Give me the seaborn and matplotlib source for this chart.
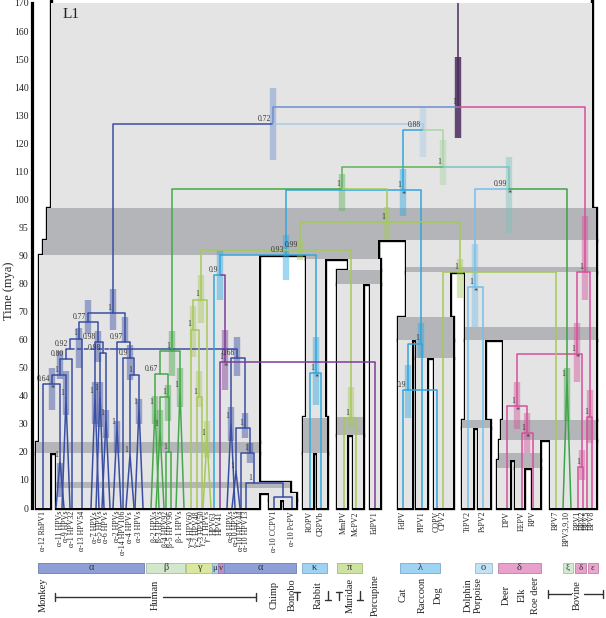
import numpy as np
import pandas as pd
import matplotlib
matplotlib.use('Agg')
import matplotlib.pyplot as plt
import matplotlib.colors as mcolors
from matplotlib.patches import Rectangle
import seaborn as sns

sns.set_theme(style='white')
plt.rcParams['font.family'] = ['Liberation Serif', 'DejaVu Serif']

# ---------------- virus tree: internal nodes ----------------
node_name = ['R', 'A', 'P', 'Na0', 'n088', 'a1', 'a2', 'a11', 'n98a', 'n98b',
             'n92', 'n80', 'n1a', 'n64', 'n9', 'n1d', 'aR', 'r1', 'r2', 'r3',
             'r4', 'n103', 'n111', 'n93', 'lam1', 'lam2', 'mn', 'nu', 'kap', 'n1036',
             'n099', 'beta1', 'beta2', 'beta3', 'beta45', 'n959', 'n099b', 'n84', 'gam1', 'gam2',
             'gam3', 'pi', 'omi', 'd2', 'dd', 'dd2', 'db', 'eps']
node_parent = [None, 'R', 'R', 'A', 'A', 'Na0', 'Na0', 'a1', 'a1', 'n98a',
               'a11', 'n92', 'n80', 'n1a', 'a2', 'n9', 'n92', 'aR', 'r1', 'r2',
               'r3', 'n088', 'n088', 'n103', 'n103', 'lam1', 'n93', 'mn', 'n93', 'n111',
               'n111', 'n1036', 'beta1', 'beta2', 'beta3', 'n1036', 'n959', 'n959', 'n099b', 'gam1',
               'gam2', 'n099b', 'n099', 'P', 'd2', 'dd', 'd2', 'P']
node_age = [132.9, 126.8, 84, 69.6, 124.6, 66.4, 59.3, 60.4, 59.3, 55.3,
            56.8, 53.2, 47.5, 44.3, 53.6, 47.5, 53.6, 28.5, 19.6, 9,
            4, 103.2, 111.4, 90, 58.6, 42, 83, 52, 48, 103.6,
            103.6, 56, 47.9, 39.6, 20, 95.9, 90.9, 84, 74.3, 63.6,
            39.6, 32, 78.6, 55, 36.4, 26.8, 14.6, 32.5]
node_support = ['1', '0.72', '1', '1', '0.88', '0.77', '0.97', '1', '0.98', '0.98',
                '0.92', '0.80', '1', '0.64', '0.9', '1', '0.68', '1', '1', '1',
                '', '1', '1', '0.93', '1', '0.9', '0.9', '1', '1', '1',
                '0.99', '1', '0.67', '1', '1', '1', '0.99', '1', '1', '1',
                '1', '1', '1', '1', '1', '1', '1', '1']
nan = np.nan
node_ci_lo = [122, 113.9, 74, 63.5, 115, 62, 59, 50, 52, nan,
              nan, nan, 46, 35, 45.7, nan, 47, 25, 16, nan,
              nan, 97, 105, 81.4, 53.6, 32, 74, 42, 36.8, 98,
              94, 47, nan, 31, nan, 92.8, 88.4, 75, 66, 54,
              36, 28, 64.6, 45, 28, 19.6, 10, 23]
node_ci_hi = [150.7, 139.6, 97, 78, 132.9, 74, 68, 64, 63, nan,
              nan, nan, 56, 50, 58, nan, 61, 34, 23, nan,
              nan, 111, 121, 93.7, 66, 51, 91, 63.5, 61, 109,
              115, 63, nan, 44, nan, 98.6, 92.8, 88.6, 83, 72,
              49, 43, 92, 66, 45, 34, 20.7, 42]
node_group = ['root', 'blue', 'delta', 'alpha', 'pale', 'alpha', 'alpha', 'alpha', 'alpha', 'alpha',
              'alpha', 'alpha', 'alpha', 'alpha', 'alpha', 'alpha', 'alpha', 'alpha', 'alpha', 'alpha',
              'alpha', 'cyan', 'lgreen', 'cyan', 'cyan', 'cyan', 'cyan', 'nu', 'cyan', 'green',
              'teal', 'beta', 'beta', 'beta', 'beta', 'ygreen', 'ygreen', 'ygreen', 'ygreen', 'ygreen',
              'ygreen', 'ygreen', 'omicron', 'delta', 'delta', 'delta', 'delta', 'delta']
starred = ['n64', 'n103', 'nu', 'kap', 'n099', 'omi', 'd2', 'dd', 'dd2']
# horizontal layout of the internal nodes (pixel-like units)
node_x = [458, 273, 585, 113, 423, 88, 125, 79, 98, 103,
          70, 66, 60, 52, 130, 134, 237, 245, 250, 254,
          283, 403, 443, 286, 421, 408, 220, 225, 316, 342,
          509, 172, 160, 168, 169, 387, 300, 460, 201, 193,
          199, 351, 475, 577, 517, 527, 582, 590]

# ---------------- virus tree: tips ----------------
tip_name = ['α-12 RhPV1', 'α-11 HPVs', 'α-9 HPVs', 'α-1 HPV32', 'α-13 HPV54', 'α-7 HPVs',
            'α-5 HPVs', 'α-6 HPVs', 'α-2 HPVs', 'α-14 HPV106', 'α-4 HPVs', 'α-3 HPVs',
            'β-2 HPVs', 'β-3 HPVs', 'β-4 HPV92', 'β-5 HPV96', 'β-1 HPVs',
            'γ-4 HPV60', 'γ-2 HPV48', 'γ-3 HPV50', 'γ-1 HPVs', 'HPV63', 'HPV41',
            'α-8 HPVs', 'α-10 HPVs', 'α-10 HPV44', 'α-10 HPV13', 'α-10 CCPV1', 'α-10 PcPV',
            'ROPV', 'CRPVb', 'MmPV', 'McPV2', 'EdPV1', 'FdPV', 'PlPV1', 'COPV', 'CPV2',
            'TtPV2', 'PsPV2', 'DPV', 'EEPV', 'RPV', 'BPV7', 'BPV3,9,10',
            'BPV1', 'BPV2', 'BPV5', 'BPV8']
tip_parent = ['n64', 'n64', 'n1a', 'n80', 'a11', 'n98a', 'n98b', 'n98b', 'a2', 'n9', 'n1d', 'n1d',
              'beta2', 'beta3', 'beta45', 'beta45', 'beta1', 'gam2', 'gam3', 'gam3', 'gam1',
              'mn', 'nu', 'aR', 'r1', 'r2', 'r3', 'r4', 'r4', 'kap', 'kap', 'pi', 'pi', 'nu',
              'lam2', 'lam1', 'lam2', 'n84', 'omi', 'omi', 'dd', 'dd2', 'dd2', 'n84', 'n099',
              'db', 'db', 'eps', 'eps']
tip_group = (['alpha'] * 12 + ['beta'] * 5 + ['ygreen'] * 4 + ['cyan', 'nu'] + ['alpha'] * 6 +
             ['cyan', 'cyan', 'ygreen', 'ygreen', 'nu', 'cyan', 'cyan', 'cyan', 'ygreen',
              'omicron', 'omicron', 'delta', 'delta', 'delta', 'ygreen', 'xi',
              'delta', 'delta', 'delta', 'delta'])
# crown age of collapsed clades (0 = single sequence)
tip_crown = [0, 17, 39, 0, 0, 40, 41, 32, 29, 0, 19, 36,
             36, 28, 0, 0, 42, 0, 0, 0, 25, 0, 0,
             31, 13, 0, 0, 0, 0, 0, 0, 0, 0, 0, 0, 0, 0, 0,
             0, 0, 0, 0, 0, 0, 46, 0, 0, 0, 0]
tip_ci_lo = [nan, 4, 33, nan, nan, 30, 29, 25, 19.6, nan, nan, 30,
             30, 22, nan, nan, 36, nan, nan, nan, 18, nan, nan,
             24, nan, nan, nan, nan, nan, nan, nan, nan, nan, nan, nan, nan, nan, nan,
             nan, nan, nan, nan, nan, nan, 31, nan, nan, nan, nan]
tip_ci_hi = [nan, 16, 49, nan, nan, 45, 45, 35, 31, nan, nan, 39,
             40, 35, nan, nan, 50, nan, nan, nan, 31, nan, nan,
             36, nan, nan, nan, nan, nan, nan, nan, nan, nan, nan, nan, nan, nan, nan,
             nan, nan, nan, nan, nan, nan, 50, nan, nan, nan, nan]
tip_x = [43, 60, 66, 72, 82, 95, 100, 106, 117, 123, 130, 139,
         155, 160, 166, 171, 180, 191, 197, 202, 207, 214, 220,
         231, 236, 241, 246, 274, 292, 310, 321, 344, 356, 375, 403, 422, 437, 443,
         468, 483, 507, 522, 533, 556, 567, 578, 583, 587, 592]

# ---------------- host tree (L1) ----------------
host_x0 = [51, 47, 43, 406, 39, 36, 36, 56, 259, 269, 269, 284,
           306, 306, 303, 303, 317, 348, 337, 337, 337, 353, 370,
           406, 398, 398, 416, 416, 434,
           465, 465, 462, 462, 478, 503, 501, 499, 497, 515, 515, 532, 550]
host_x1 = [592, 596, 378, 596, 259, 50, 259, 259, 290, 296, 280, 296,
           378, 325, 327, 313, 327, 380, 380, 363, 347, 363, 380,
           450, 453, 412, 453, 427, 453,
           596, 485, 490, 473, 490, 596, 596, 540, 510, 540, 524, 540, 596]
host_t0 = [98.4, 92.8, 90, 84, 23.5, 0, 19.5, 0, 5.4, 3, 0, 0,
           88.6, 32.5, 19.6, 0, 0, 85, 80, 26, 0, 0, 0,
           68, 60, 0, 53.5, 0, 0,
           60, 31.4, 28.6, 0, 0, 31.4, 24.3, 17, 0, 14.3, 0, 0, 0]
host_t1 = [172, 98.4, 92.8, 92.8, 90, 19.5, 23.5, 19.5, 9.3, 5.4, 3, 3,
           92.8, 88.6, 32.5, 19.6, 19.6, 88.6, 85, 80, 26, 26, 80,
           84, 68, 60, 60, 53.5, 53.5,
           84, 60, 31.4, 28.6, 28.6, 60, 31.4, 24.3, 17, 17, 14.3, 14.3, 24.3]

# host divergence intervals (dark bands)
band_x0 = [43, 43, 300, 36, 56, 303, 337, 337, 398, 398, 416, 465, 462, 499, 497]
band_x1 = [597, 300, 380, 259, 290, 327, 363, 380, 597, 453, 453, 597, 490, 597, 540]
band_t0 = [92.8, 90, 88.6, 19.5, 7.1, 19.6, 26, 80, 84, 60, 53.5, 60, 28.6, 24.3, 14.3]
band_t1 = [98.4, 92.8, 92.8, 23.5, 9.3, 32, 32.5, 85, 86, 68, 60, 64.6, 31.4, 31.4, 19.6]

# genera and hosts under the tree
genus_label = ['α', 'β', 'γ', 'μ', 'ν', 'α', 'κ', 'π', 'λ', 'ο', 'δ', 'ξ', 'δ', 'ε']
genus_x0 = [38, 146, 186, 212, 218, 224, 302, 337, 400, 475, 498, 563, 575, 588]
genus_x1 = [144, 185, 212, 218, 224, 296, 327, 362, 440, 492, 541, 573, 586, 598]
genus_fill = ['#8f9fd8', '#d3e7cd', '#d9e89c', '#a3d4f1', '#bb8fc6', '#8f9fd8', '#9ed3f3',
              '#cde3a0', '#9ed3f3', '#c2e2f6', '#e8a0cc', '#d2ead0', '#e8a0cc', '#eaa6cf']
host_label = ['Monkey', 'Human', 'Chimp', 'Bonobo', 'Rabbit', 'Muridae', 'Porcupine',
              'Cat', 'Raccoon', 'Dog', 'Dolphin', 'Porpoise', 'Deer', 'Elk', 'Roe deer', 'Bovine']
host_label_x = [43, 155, 274, 292, 318, 350, 375, 403, 422, 438, 468, 478, 506, 522, 535, 577]

palette = {'root': '#4b2c5e', 'blue': '#6d8fd0', 'alpha': '#3a4ea3', 'pale': '#a8cbe6',
           'cyan': '#2fa6df', 'lgreen': '#a9d6a3', 'green': '#5eb35b', 'teal': '#7cc4be',
           'beta': '#46a84a', 'ygreen': '#a6c95a', 'nu': '#7d3c98', 'omicron': '#75bfe8',
           'delta': '#d6509b', 'xi': '#3da447'}

nodes = pd.DataFrame({'name': node_name, 'parent': node_parent, 'age': node_age,
                      'support': node_support, 'lo': node_ci_lo, 'hi': node_ci_hi,
                      'group': node_group, 'x': node_x}).set_index('name')
tips = pd.DataFrame({'name': tip_name, 'parent': tip_parent, 'group': tip_group,
                     'crown': tip_crown, 'lo': tip_ci_lo, 'hi': tip_ci_hi, 'x': tip_x})
hosts = pd.DataFrame({'x0': host_x0, 'x1': host_x1, 't0': host_t0, 't1': host_t1})
bands = pd.DataFrame({'x0': band_x0, 'x1': band_x1, 't0': band_t0, 't1': band_t1})


# time axis is stretched between 90 and 100 mya
def fwd(t):
    t = np.asarray(t, dtype=float)
    return np.where(t <= 90, t, np.where(t <= 100, 90 + 2 * (t - 90), t + 10))


def inv(u):
    u = np.asarray(u, dtype=float)
    return np.where(u <= 90, u, np.where(u <= 110, 90 + (u - 90) / 2, u - 10))


fig = plt.figure(figsize=(6.06, 6.18), dpi=100)
ax = fig.add_axes([32 / 606, 110 / 618, 574 / 606, 505 / 618])
ax.set_yscale('function', functions=(fwd, inv))
ax.set_xlim(32, 606)
ax.set_ylim(0, 170)

# host tree: outline first, then fill on top hides the inner edges
for _, h in hosts.iterrows():
    ax.add_patch(Rectangle((h.x0, h.t0), h.x1 - h.x0, h.t1 - h.t0, fill=False,
                           ec='black', lw=2.4, clip_on=False, zorder=1))
for _, h in hosts.iterrows():
    ax.add_patch(Rectangle((h.x0, h.t0), h.x1 - h.x0, h.t1 - h.t0, fc='#e4e4e4',
                           ec='none', lw=0, zorder=2))
for _, b in bands.iterrows():
    for _, h in hosts.iterrows():
        x0, x1 = max(b.x0, h.x0), min(b.x1, h.x1)
        t0, t1 = max(b.t0, h.t0), min(b.t1, h.t1)
        if x1 > x0 and t1 > t0:
            ax.add_patch(Rectangle((x0, t0), x1 - x0, t1 - t0, fc='#b4b5b8',
                                   ec='none', lw=0, zorder=3))

lw = 1.1
# root stem
ax.plot([nodes.loc['R', 'x']] * 2, [nodes.loc['R', 'age'], 170], color=palette['root'], lw=lw, zorder=5)


def edge(x, age, parent, color, name=None):
    p = nodes.loc[parent]
    ax.plot([x, x], [age, p.age], color=color, lw=lw, zorder=5, solid_capstyle='butt')
    if name == 'aR':
        ax.plot([p.x, 110], [p.age, p.age], color=color, lw=lw, ls=(0, (3, 1.5)), zorder=5)
        ax.plot([110, x], [p.age, p.age], color=color, lw=lw, zorder=5)
    else:
        ax.plot([x, p.x], [p.age, p.age], color=color, lw=lw, zorder=5)


def ci(x, lo, hi, color):
    if np.isfinite(lo):
        a = 0.85 if color == palette['root'] else 0.45
        ax.plot([x, x], [lo, hi], color=color, alpha=a, lw=4.6, solid_capstyle='butt', zorder=4)


def support(x, age, s):
    if s:
        ax.annotate(s, (x, age), xytext=(-1.2, 0.8), textcoords='offset points',
                    ha='right', va='bottom', fontsize=5.5, color='#333333', zorder=7)


for name, n in nodes.iterrows():
    c = palette[n.group]
    if n.parent is not None:
        edge(n.x, n.age, n.parent, c, name)
    ci(n.x, n.lo, n.hi, c)
    support(n.x, n.age, n.support)
    if name in starred:
        ax.annotate('*', (n.x, n.age), xytext=(0.5, -0.5), textcoords='offset points',
                    ha='center', va='top', fontsize=6, color='#333333', zorder=7)

for _, t in tips.iterrows():
    c = palette[t.group]
    edge(t.x, t.crown, t.parent, c)
    ci(t.x, t.lo, t.hi, c)
    if t.crown > 0:
        ax.plot([t.x - 4, t.x, t.x + 4], [0, t.crown, 0], color=c, lw=lw, zorder=5)
        support(t.x, t.crown, '1')

ax.text(63, 166, 'L1', fontsize=11, va='center', ha='left', color='#222222', zorder=8)

# axis styling
yt = [0, 10, 20, 30, 40, 50, 60, 70, 80, 90, 95, 100, 110, 120, 130, 140, 150, 160, 170]
ax.set_yticks(yt)
ax.set_yticklabels([str(v) for v in yt], fontsize=7)
ax.set_xticks([])
ax.tick_params(axis='y', length=0, pad=2.5, colors='#222222')
sns.despine(ax=ax, top=True, right=True, bottom=True, left=False)
ax.spines['left'].set_linewidth(2.3)
ax.spines['left'].set_color('black')
ax.set_ylabel('Time (mya)', fontsize=9, color='#222222')
ax.yaxis.set_label_coords(-0.029, 0.43)
ax.set_facecolor('white')

# ---------------- labels under the tree ----------------
axb = fig.add_axes([32 / 606, 0, 574 / 606, 110 / 618])
axb.set_xlim(32, 606)
axb.set_ylim(110, 0)
axb.axis('off')

for _, t in tips.iterrows():
    axb.text(t.x, 3, t['name'], rotation=90, ha='center', va='top', fontsize=5.7, color='#222222')

for lab, x0, x1, fc in zip(genus_label, genus_x0, genus_x1, genus_fill):
    ec = np.array(mcolors.to_rgb(fc)) * 0.85
    axb.add_patch(Rectangle((x0, 55), x1 - x0, 10, fc=fc, ec=ec, lw=0.7))
    axb.text((x0 + x1) / 2, 60, lab, ha='center', va='center',
             fontsize=6.5 if x1 - x0 < 12 else 7.5, color='#333333')

for lab, x in zip(host_label, host_label_x):
    axb.text(x, 87, lab, rotation=90, ha='center', va='center', fontsize=7.5, color='#222222')

rc = '#333333'
# Human and Bovine ranges
for (a, b) in [(55, 150), (163, 256)]:
    axb.plot([a, b], [89, 89], color=rc, lw=1)
for x in (55, 256):
    axb.plot([x, x], [85, 93], color=rc, lw=1)
for (a, b) in [(548, 571), (584, 603)]:
    axb.plot([a, b], [86, 86], color=rc, lw=1)
for x in (548, 603):
    axb.plot([x, x], [82, 90], color=rc, lw=1)
# Rabbit and Muridae short ranges
for xl, xr in [(297, 328), (339, 360)]:
    axb.plot([xl - 3, xl + 3], [84, 84], color=rc, lw=1)
    axb.plot([xl, xl], [84, 92], color=rc, lw=1)
    axb.plot([xr, xr], [83, 92], color=rc, lw=1)
    axb.plot([xr - 3, xr + 3], [92, 92], color=rc, lw=1)

fig.savefig('out.png', dpi=100)
